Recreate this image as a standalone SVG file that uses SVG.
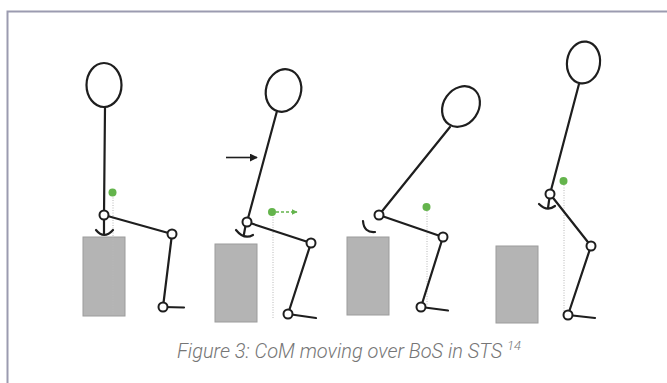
<svg xmlns="http://www.w3.org/2000/svg" width="667" height="383" viewBox="0 0 667 383">
  <defs>
    <style>
      .limb { fill: none; stroke: #1e1e1e; stroke-width: 2.2; stroke-linecap: round; }
      .head { fill: #fff; stroke: #1e1e1e; stroke-width: 2.2; }
      .joint { fill: #fff; stroke: #1e1e1e; stroke-width: 2; }
      .seat { fill: #b4b4b4; stroke: #9c9c9c; stroke-width: 1; }
      .plumb { fill: none; stroke: #b8b8b8; stroke-width: 1; stroke-dasharray: 1 1.5; }
      .com { fill: #64b44c; }
      .caption { font-family: Roboto, "Liberation Sans", sans-serif; font-style: italic; font-weight: 300; fill: #767676; }
    </style>
    <marker id="ahBlack" viewBox="0 0 10 10" refX="9" refY="5" markerWidth="5" markerHeight="5" orient="auto">
      <path d="M0,0 L10,5 L0,10 z" fill="#1e1e1e"/>
    </marker>
    <marker id="ahGreen" viewBox="0 0 10 10" refX="9" refY="5" markerWidth="4" markerHeight="4" orient="auto">
      <path d="M0,0 L10,5 L0,10 z" fill="#64b44c"/>
    </marker>
  </defs>

  <rect width="667" height="383" fill="#fff"/>
  <!-- frame (top and left edges) -->
  <path d="M7.5,383 V11.5 H667" fill="none" stroke="#9b9bb0" stroke-width="2"/>

  <!-- phase 1: seated -->
  <g id="phase1">
    <rect class="seat" x="83" y="237" width="42" height="79"/>
    <line class="plumb" x1="113" y1="195" x2="113" y2="315"/>
    <line class="limb" x1="105" y1="107" x2="104" y2="215"/>
    <path class="limb" d="M104,215 V235 M96,230 Q104,240 113,230"/>
    <line class="limb" x1="104" y1="215" x2="172" y2="234"/>
    <line class="limb" x1="172" y1="234" x2="163" y2="307"/>
    <line class="limb" x1="163" y1="307" x2="184" y2="307.5"/>
    <ellipse class="head" cx="104" cy="85" rx="17.5" ry="22"/>
    <circle class="joint" cx="104" cy="215" r="4.5"/>
    <circle class="joint" cx="172" cy="234" r="4.5"/>
    <circle class="joint" cx="163" cy="307" r="4.5"/>
    <circle class="com" cx="112.5" cy="192.5" r="4"/>
  </g>

  <!-- phase 2: trunk flexion -->
  <g id="phase2">
    <rect class="seat" x="215" y="244" width="42" height="78"/>
    <line class="plumb" x1="273" y1="217" x2="273" y2="318"/>
    <line class="limb" x1="277" y1="111" x2="247" y2="222"/>
    <path class="limb" d="M246,223 L244,234 M236,230 Q244,240 253,235"/>
    <line class="limb" x1="247" y1="222" x2="311" y2="243"/>
    <line class="limb" x1="311" y1="243" x2="288" y2="314"/>
    <line class="limb" x1="288" y1="314" x2="316" y2="318"/>
    <ellipse class="head" cx="283.5" cy="90.5" rx="17.5" ry="21.5" transform="rotate(15 283.5 90.5)"/>
    <circle class="joint" cx="247" cy="222" r="4.5"/>
    <circle class="joint" cx="311" cy="243" r="4.5"/>
    <circle class="joint" cx="288" cy="314" r="4.5"/>
    <circle class="com" cx="272" cy="212" r="4"/>
  </g>

  <!-- phase 3: seat-off -->
  <g id="phase3">
    <rect class="seat" x="347" y="237" width="42" height="78"/>
    <line class="plumb" x1="427" y1="211" x2="427" y2="306"/>
    <line class="limb" x1="450" y1="127" x2="379" y2="215"/>
    <path class="limb" d="M363,221 Q364,233 375,232"/>
    <line class="limb" x1="379" y1="215" x2="443" y2="237"/>
    <line class="limb" x1="443" y1="237" x2="421" y2="307"/>
    <line class="limb" x1="421" y1="307" x2="448" y2="310.5"/>
    <ellipse class="head" cx="461" cy="106.5" rx="17.5" ry="21.5" transform="rotate(35 461 106.5)"/>
    <circle class="joint" cx="379" cy="215" r="4.5"/>
    <circle class="joint" cx="443" cy="237" r="4.5"/>
    <circle class="joint" cx="421" cy="307" r="4.5"/>
    <circle class="com" cx="426.5" cy="207" r="4"/>
  </g>

  <!-- phase 4: standing -->
  <g id="phase4">
    <rect class="seat" x="496" y="246" width="42" height="77"/>
    <line class="plumb" x1="564" y1="185" x2="564" y2="315"/>
    <line class="limb" x1="579" y1="84" x2="550" y2="194"/>
    <path class="limb" d="M550,194 L548,208 M539,204 Q547,212 555,206"/>
    <line class="limb" x1="550" y1="194" x2="591" y2="246"/>
    <line class="limb" x1="591" y1="246" x2="568" y2="315"/>
    <line class="limb" x1="568" y1="315" x2="595" y2="318"/>
    <ellipse class="head" cx="583.5" cy="62.5" rx="16.5" ry="21" transform="rotate(8 583.5 62.5)"/>
    <circle class="joint" cx="550" cy="194" r="4.5"/>
    <circle class="joint" cx="591" cy="246" r="4.5"/>
    <circle class="joint" cx="568" cy="315" r="4.5"/>
    <circle class="com" cx="563.5" cy="181" r="4"/>
  </g>

  <!-- motion arrows -->
  <g id="connectors">
    <line x1="226" y1="157.5" x2="257" y2="157.5" stroke="#1e1e1e" stroke-width="1.6" marker-end="url(#ahBlack)"/>
    <line x1="276" y1="212" x2="297" y2="212" stroke="#64b44c" stroke-width="1.5" stroke-dasharray="3 2" marker-end="url(#ahGreen)"/>
  </g>

  <!-- caption -->
  <text class="caption" x="349" y="358" font-size="20" text-anchor="middle">Figure 3: CoM moving over BoS in STS <tspan font-size="13" dy="-8">14</tspan></text>
</svg>
